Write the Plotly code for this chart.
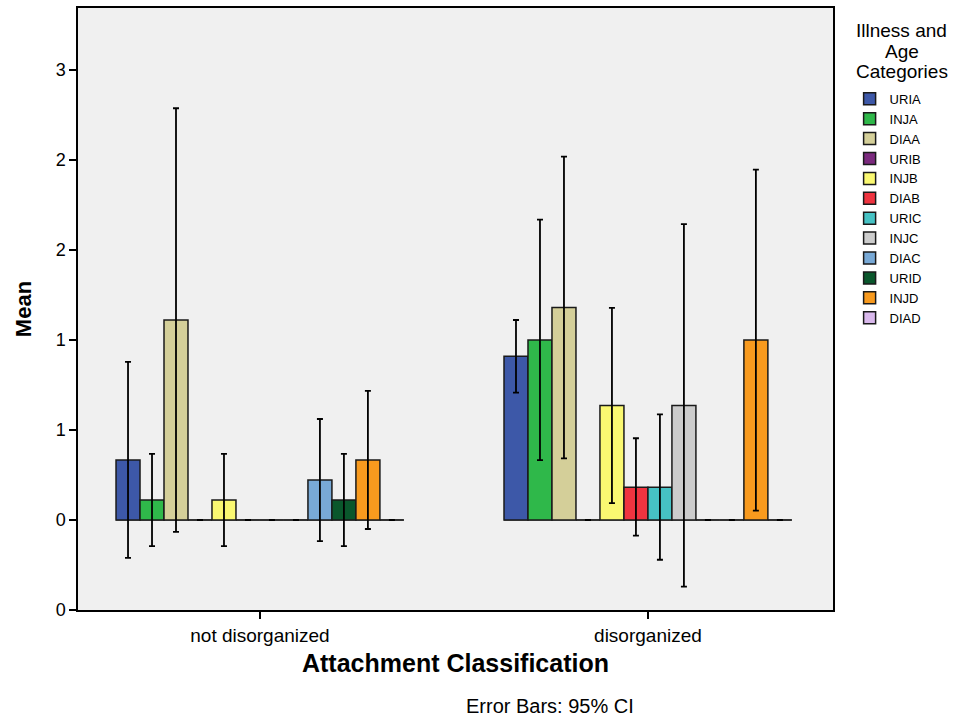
import plotly.graph_objects as go

# Attachment groups on the x axis
groups = ["not disorganized", "disorganized"]

# Illness / age categories (one bar series each)
series = ["URIA", "INJA", "DIAA", "URIB", "INJB", "DIAB",
          "URIC", "INJC", "DIAC", "URID", "INJD", "DIAD"]
colors = ["#3D58A8", "#2FB84A", "#D4CF99", "#7B2A7E", "#FAF871", "#EF3440",
          "#46C2C4", "#CCCCCC", "#78A9D6", "#0A572C", "#F89A1E", "#D9B8EC"]

# Means per series for each group
mean_not_dis = [0.333, 0.111, 1.111, 0, 0.111, 0, 0, 0, 0.222, 0.111, 0.333, 0]
mean_dis = [0.909, 1.0, 1.18, 0, 0.636, 0.182, 0.182, 0.636, 0, 0, 1.0, 0]

# 95% confidence interval bounds
ci_low_not_dis = [-0.21, -0.145, -0.066, 0, -0.145, 0, 0, 0, -0.117, -0.145, -0.05, 0]
ci_high_not_dis = [0.878, 0.367, 2.287, 0, 0.367, 0, 0, 0, 0.561, 0.367, 0.717, 0]
ci_low_dis = [0.707, 0.332, 0.342, 0, 0.094, -0.087, -0.221, -0.37, 0, 0, 0.052, 0]
ci_high_dis = [1.111, 1.668, 2.018, 0, 1.178, 0.454, 0.587, 1.643, 0, 0, 1.946, 0]

# y axis ticks and their (rounded) labels
y_tickvals = [-0.5, 0, 0.5, 1, 1.5, 2, 2.5]
y_ticktext = ["0", "0", "1", "1", "2", "2", "3"]

legend_title_lines = ["Illness and", "Age", "Categories"]

FONT = "Liberation Sans, Arial, sans-serif"
BAR_GAP = 0.258

fig = go.Figure()
for i, name in enumerate(series):
    means = [mean_not_dis[i], mean_dis[i]]
    highs = [ci_high_not_dis[i], ci_high_dis[i]]
    lows = [ci_low_not_dis[i], ci_low_dis[i]]
    fig.add_trace(go.Bar(
        name=name,
        x=groups,
        y=means,
        marker=dict(color=colors[i], line=dict(color="#1a1a1a", width=1.5)),
        error_y=dict(
            type="data",
            symmetric=False,
            array=[h - m for h, m in zip(highs, means)],
            arrayminus=[m - l for m, l in zip(means, lows)],
            color="black",
            thickness=1.8,
            width=3,
        ),
    ))

# zero baseline spanning each cluster of bars
half = (1 - BAR_GAP) / 2
for gi in range(len(groups)):
    fig.add_shape(type="line", xref="x", yref="y",
                  x0=gi - half, x1=gi + half, y0=0, y1=0,
                  line=dict(color="#555555", width=1.5), layer="below")

# centred multi-line legend heading
for k, line in enumerate(legend_title_lines):
    fig.add_annotation(text=line, xref="paper", yref="paper",
                       x=1.091, y=0.962 - k * 0.0335,
                       xanchor="center", yanchor="middle", showarrow=False,
                       font=dict(family=FONT, size=19, color="black"))

fig.add_annotation(text="Error Bars: 95% CI", xref="paper", yref="paper",
                   x=0.625, y=-0.16, xanchor="center", yanchor="middle",
                   showarrow=False, font=dict(family=FONT, size=20, color="black"))

fig.update_layout(
    width=958, height=719,
    margin=dict(l=78, r=125, t=8, b=109, autoexpand=False),
    paper_bgcolor="white",
    plot_bgcolor="#F0F0F0",
    barmode="group",
    bargap=BAR_GAP,
    bargroupgap=0,
    font=dict(family=FONT, color="black"),
    showlegend=True,
    legend=dict(
        font=dict(family=FONT, size=13),
        x=1.022, xanchor="left", y=0.874, yanchor="top",
        bgcolor="rgba(0,0,0,0)", itemclick=False,
    ),
    xaxis=dict(
        range=[-0.469, 1.477],
        showline=True, linecolor="black", linewidth=1.5, mirror=True,
        ticks="outside", ticklen=7, tickwidth=1.5, tickcolor="black",
        tickfont=dict(family=FONT, size=19),
        title=dict(text="<b>Attachment Classification</b>", standoff=10,
                   font=dict(family=FONT, size=25)),
        showgrid=False, zeroline=False, automargin=False,
    ),
    yaxis=dict(
        range=[-0.5, 2.844],
        tickvals=y_tickvals, ticktext=y_ticktext,
        showline=True, linecolor="black", linewidth=1.5, mirror=True,
        ticks="outside", ticklen=7, tickwidth=1.5, tickcolor="black",
        tickfont=dict(family=FONT, size=18),
        title=dict(text="<b>Mean</b>", standoff=18,
                   font=dict(family=FONT, size=22)),
        showgrid=False, zeroline=False, automargin=False,
    ),
)

fig.write_html("out.html")
